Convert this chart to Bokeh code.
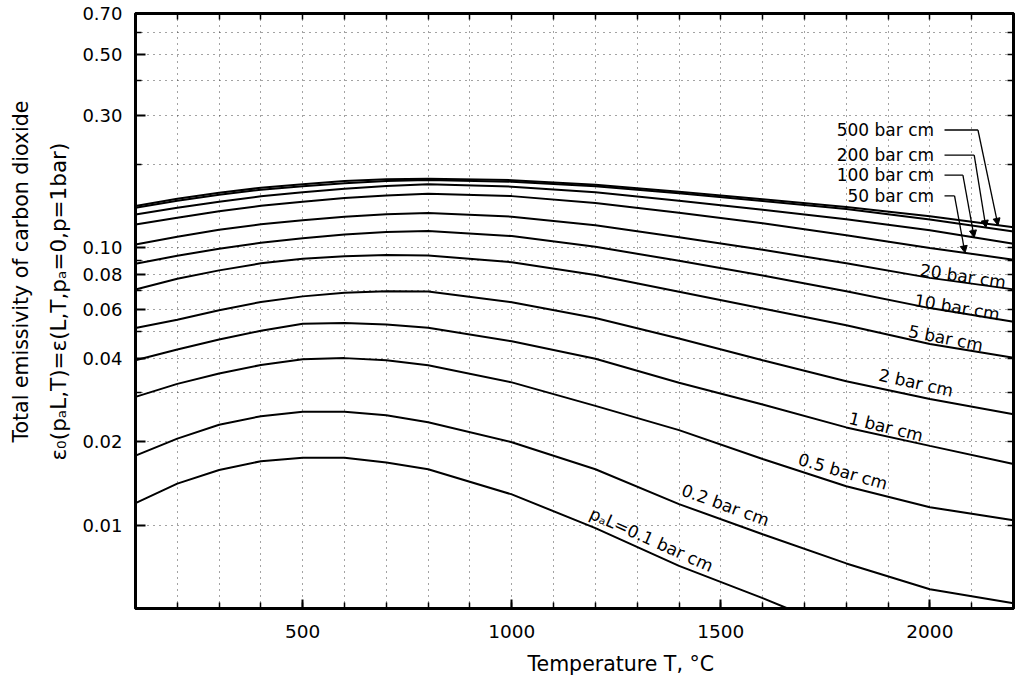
import math
import numpy as np
from bokeh.plotting import figure
from bokeh.models import (FixedTicker, PrintfTickFormatter, LogAxis, LinearAxis,
                          Label, Arrow, NormalHead, Range1d, Title)
from bokeh.embed import file_html
from bokeh.resources import INLINE

# ---------------- data ----------------
temps = [100, 200, 300, 400, 500, 600, 700, 800, 1000, 1200, 1400, 1600, 1800, 2000, 2200]
temps_01 = [100, 200, 300, 400, 500, 600, 700, 800, 1000, 1200, 1400, 1600, 1660]

eps_500 = [0.1414, 0.1503, 0.1580, 0.1646, 0.1695, 0.1740, 0.1767, 0.1776, 0.1754, 0.1687, 0.1594, 0.1496, 0.1402, 0.1299, 0.1185]
eps_200 = [0.1395, 0.1478, 0.1554, 0.1619, 0.1667, 0.1711, 0.1743, 0.1756, 0.1732, 0.1666, 0.1574, 0.1476, 0.1379, 0.1266, 0.1146]
eps_100 = [0.1319, 0.1395, 0.1466, 0.1534, 0.1586, 0.1634, 0.1671, 0.1694, 0.1662, 0.1585, 0.1479, 0.1371, 0.1268, 0.1156, 0.1035]
eps_50 = [0.1214, 0.1283, 0.1354, 0.1418, 0.1466, 0.1511, 0.1545, 0.1568, 0.1536, 0.1452, 0.1339, 0.1225, 0.1110, 0.0999, 0.0906]
eps_20 = [0.1028, 0.1096, 0.1161, 0.1216, 0.1257, 0.1295, 0.1321, 0.1336, 0.1295, 0.1205, 0.1092, 0.0983, 0.0880, 0.0779, 0.0708]
eps_10 = [0.0876, 0.0936, 0.0992, 0.1042, 0.1083, 0.1116, 0.1141, 0.1149, 0.1102, 0.1008, 0.0898, 0.0795, 0.0697, 0.0606, 0.0541]
eps_5 = [0.0707, 0.0773, 0.0829, 0.0879, 0.0913, 0.0933, 0.0942, 0.0938, 0.0887, 0.0798, 0.0694, 0.0604, 0.0526, 0.0450, 0.0401]
eps_2 = [0.0514, 0.0550, 0.0595, 0.0638, 0.0668, 0.0689, 0.0697, 0.0695, 0.0636, 0.0558, 0.0471, 0.0393, 0.0330, 0.0285, 0.0251]
eps_1 = [0.0393, 0.0430, 0.0467, 0.0502, 0.0532, 0.0535, 0.0529, 0.0515, 0.0460, 0.0398, 0.0326, 0.0272, 0.0225, 0.0193, 0.0166]
eps_05 = [0.0290, 0.0323, 0.0352, 0.0378, 0.0396, 0.0400, 0.0393, 0.0377, 0.0327, 0.0269, 0.0220, 0.0173, 0.0138, 0.0116, 0.0104]
eps_02 = [0.0178, 0.0205, 0.0230, 0.0247, 0.0256, 0.0256, 0.0249, 0.0235, 0.0199, 0.0159, 0.0119, 0.00926, 0.00727, 0.00587, 0.00522]
eps_01 = [0.0120, 0.0141, 0.0158, 0.0170, 0.0175, 0.0175, 0.0168, 0.0159, 0.0129, 0.00975, 0.00712, 0.00545, 0.0050]

# axis ticks / grid
x_major = [500, 1000, 1500, 2000]
x_minor = list(range(200, 2200, 100))
y_major = [0.01, 0.02, 0.04, 0.06, 0.08, 0.1, 0.3, 0.5, 0.7]
y_minor = [0.03, 0.05, 0.07, 0.09, 0.2, 0.4, 0.6]
y_grid = [0.01, 0.02, 0.03, 0.04, 0.05, 0.06, 0.07, 0.08, 0.09, 0.1, 0.2, 0.3, 0.4, 0.5, 0.6]

# rotated curve labels
curve_labels = ["pₐL=0.1 bar cm", "0.2 bar cm", "0.5 bar cm", "1 bar cm",
                "2 bar cm", "5 bar cm", "10 bar cm", "20 bar cm"]
curve_label_T = [1334, 1511, 1792, 1895, 1967, 2038, 2065, 2079]
curve_label_eps = [0.00886, 0.0118, 0.0156, 0.0226, 0.0326, 0.0472, 0.0610, 0.0790]
curve_label_deg = [24, 20, 16, 14, 12.5, 11, 9.5, 8.5]

# leader labels
lead_labels = ["500 bar cm", "200 bar cm", "100 bar cm", "50 bar cm"]
lead_text_T = 2010
lead_eps = [0.266, 0.216, 0.183, 0.154]
lead_start_T = 2035
lead_elbow_T = [2115, 2106, 2079, 2059]
lead_tip_T = [2163, 2134, 2106, 2084]
lead_curves = [eps_500, eps_200, eps_100, eps_50]

FONT = "DejaVu Sans"

p = figure(width=1017, height=689, y_axis_type="log",
           x_range=Range1d(100, 2200), y_range=Range1d(0.005, 0.7),
           output_backend="svg", toolbar_location=None,
           min_border_left=135, min_border_right=4, min_border_top=13, min_border_bottom=81)
p.background_fill_color = "white"
p.border_fill_color = "white"
p.outline_line_color = "black"
p.outline_line_width = 3

# grid
p.xgrid.ticker = FixedTicker(ticks=x_minor)
p.ygrid.ticker = FixedTicker(ticks=y_grid)
for g in (p.xgrid[0], p.ygrid[0]):
    g.grid_line_color = "#333333"
    g.grid_line_dash = "1 5"
    g.grid_line_width = 1
    g.grid_line_alpha = 0.9

# bottom axis
xa = p.xaxis[0]
xa.ticker = FixedTicker(ticks=x_major, minor_ticks=x_minor)
xa.major_tick_in = 9
xa.major_tick_out = 0
xa.minor_tick_in = 6
xa.minor_tick_out = 0
xa.major_label_standoff = 16
xa.major_label_text_font = FONT
xa.major_label_text_font_size = "18.5px"
xa.major_label_text_color = "black"
xa.axis_line_width = 3
xa.major_tick_line_width = 2
xa.minor_tick_line_width = 1.5

# left axis
ya = p.yaxis[0]
ya.ticker = FixedTicker(ticks=y_major, minor_ticks=y_minor)
ya.formatter = PrintfTickFormatter(format="%.2f")
ya.major_tick_in = 10
ya.major_tick_out = 0
ya.minor_tick_in = 6
ya.minor_tick_out = 0
ya.major_label_standoff = 13
ya.major_label_text_font = FONT
ya.major_label_text_font_size = "18px"
ya.major_label_text_color = "black"
ya.axis_line_width = 3
ya.major_tick_line_width = 2
ya.minor_tick_line_width = 1.5

# top and right axes: ticks only
top = LinearAxis(ticker=FixedTicker(ticks=[], minor_ticks=x_minor),
                 minor_tick_in=6, minor_tick_out=0, major_tick_out=0, major_tick_in=0,
                 major_label_standoff=0, axis_line_width=3, minor_tick_line_width=1.5)
p.add_layout(top, "above")
right = LogAxis(ticker=FixedTicker(ticks=[], minor_ticks=y_grid),
                minor_tick_in=6, minor_tick_out=0, major_tick_out=0, major_tick_in=0,
                major_label_standoff=0, axis_line_width=3, minor_tick_line_width=1.5)
p.add_layout(right, "right")

# axis titles
p.add_layout(Title(text="ε₀(pₐL,T)=ε(L,T,pₐ=0,p=1bar)", align="left", offset=148,
                   vertical_align="middle", standoff=16,
                   text_font=FONT, text_font_size="21.5px", text_font_style="normal",
                   text_color="black"), "left")
p.add_layout(Title(text="Total emissivity of carbon dioxide", align="left", offset=166,
                   vertical_align="middle", standoff=5,
                   text_font=FONT, text_font_size="20.5px", text_font_style="normal",
                   text_color="black"), "left")
p.add_layout(Title(text="Temperature T, °C", align="left", offset=392,
                   vertical_align="bottom", standoff=19,
                   text_font=FONT, text_font_size="20.5px", text_font_style="normal",
                   text_color="black"), "below")

# curves
curves = [(temps, eps_500), (temps, eps_200), (temps, eps_100), (temps, eps_50),
          (temps, eps_20), (temps, eps_10), (temps, eps_5), (temps, eps_2),
          (temps, eps_1), (temps, eps_05), (temps, eps_02), (temps_01, eps_01)]
for tx, ey in curves:
    p.line(tx, ey, line_color="black", line_width=2)

# rotated curve labels
for txt, tx, ey, deg in zip(curve_labels, curve_label_T, curve_label_eps, curve_label_deg):
    p.add_layout(Label(x=tx, y=ey, text=txt, angle=-math.radians(deg),
                       text_align="center", text_baseline="middle",
                       text_font=FONT, text_font_size="17px", text_color="black"))

# leader labels with arrows
for txt, ey, elb, tip, cv in zip(lead_labels, lead_eps, lead_elbow_T, lead_tip_T, lead_curves):
    p.add_layout(Label(x=lead_text_T, y=ey, text=txt, text_align="right",
                       text_baseline="middle", text_font=FONT,
                       text_font_size="17px", text_color="black"))
    p.line([lead_start_T, elb], [ey, ey], line_color="black", line_width=1.3)
    tip_eps = 10 ** np.interp(tip, temps, np.log10(cv))
    p.add_layout(Arrow(end=NormalHead(size=7, fill_color="black", line_color="black"),
                       x_start=elb, y_start=ey, x_end=tip, y_end=tip_eps,
                       line_color="black", line_width=1.3))

open("out.html", "w").write(file_html(p, INLINE))
